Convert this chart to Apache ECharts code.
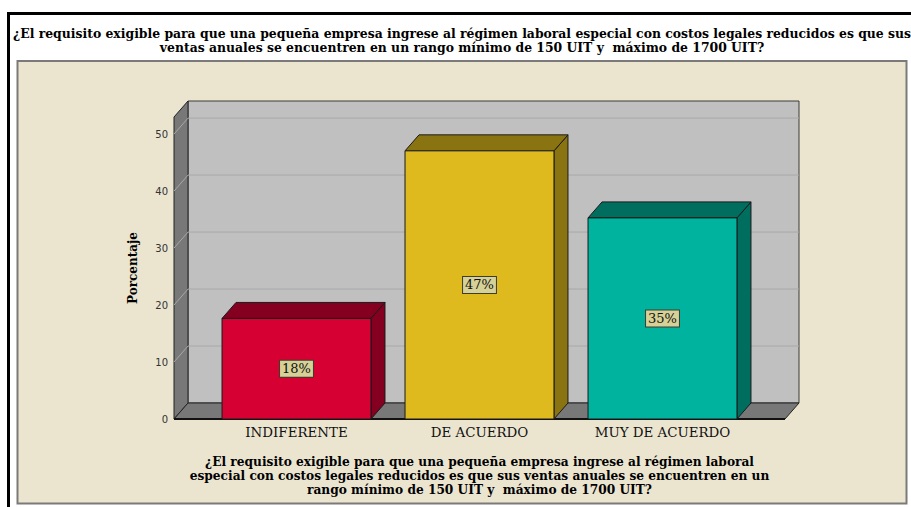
<!DOCTYPE html>
<html>
<head>
<meta charset="utf-8">
<script src="https://cdn.jsdelivr.net/npm/echarts@6/dist/echarts.min.js"></script>
<style>
html,body{margin:0;padding:0;background:#ffffff;}
#chart{width:911px;height:507px;}
</style>
</head>
<body>
<div id="chart"></div>
<script>
// ---- data ----
const categories = ['INDIFERENTE', 'DE ACUERDO', 'MUY DE ACUERDO'];
const values = [17.65, 47.06, 35.29];
const valueLabels = ['18%', '47%', '35%'];
const yMin = 0, yMax = 53, yInterval = 10;
const gridValues = [10, 20, 30, 40, 50];
const titleText = '¿El requisito exigible para que una pequeña empresa ingrese al régimen laboral especial con costos legales reducidos es que sus\nventas anuales se encuentren en un rango mínimo de 150 UIT y  máximo de 1700 UIT?';
const xAxisTitle = '¿El requisito exigible para que una pequeña empresa ingrese al régimen laboral\nespecial con costos legales reducidos es que sus ventas anuales se encuentren en un\nrango mínimo de 150 UIT y  máximo de 1700 UIT?';
const yAxisTitle = 'Porcentaje';

// ---- style ----
const frontColors = ['#D60032', '#DFBA1E', '#00B39E'];
const darkColors = ['#850020', '#8A7412', '#006E5F'];
const DX = 14, DY = -16, EXT = 31;
const SERIF = '"DejaVu Serif", serif';

const chart = echarts.init(document.getElementById('chart'), null, {renderer: 'svg'});

function renderWalls(params, api) {
  const cs = params.coordSys;
  const xl = cs.x - EXT, xr = cs.x + cs.width + EXT;
  const y0 = api.coord([0, yMin])[1];
  const yT = api.coord([0, yMax])[1];
  const children = [];
  children.push({type: 'polygon', shape: {points: [[xl + DX, yT + DY], [xr + DX, yT + DY], [xr + DX, y0 + DY], [xl + DX, y0 + DY]]},
    style: {fill: '#C0C0C0', stroke: '#3a3a3a', lineWidth: 1}});
  children.push({type: 'polygon', shape: {points: [[xl, y0], [xl, yT], [xl + DX, yT + DY], [xl + DX, y0 + DY]]},
    style: {fill: '#787878', stroke: '#222', lineWidth: 1}});
  children.push({type: 'polygon', shape: {points: [[xl, y0], [xr, y0], [xr + DX, y0 + DY], [xl + DX, y0 + DY]]},
    style: {fill: '#787878', stroke: '#222', lineWidth: 1}});
  gridValues.forEach(function (v) {
    const y = api.coord([0, v])[1];
    children.push({type: 'line', shape: {x1: xl + DX, y1: y + DY, x2: xr + DX, y2: y + DY}, style: {stroke: '#A8A8A8', lineWidth: 1}});
    children.push({type: 'line', shape: {x1: xl, y1: y, x2: xl + DX, y2: y + DY}, style: {stroke: '#A8A8A8', lineWidth: 1}});
  });
  children.push({type: 'line', shape: {x1: xl, y1: y0, x2: xr, y2: y0}, style: {stroke: '#111', lineWidth: 2}});
  return {type: 'group', children: children};
}

function renderBar(params, api) {
  const idx = api.value(0);
  const val = api.value(1);
  const base = api.coord([idx, 0]);
  const top = api.coord([idx, val]);
  const w = api.size([1, 0])[0] * 0.814;
  const x0 = base[0] - w / 2, x1 = base[0] + w / 2;
  const yb = base[1], yt = top[1];
  const fc = frontColors[idx], dc = darkColors[idx];
  const st = {stroke: '#1a1a1a', lineWidth: 1};
  return {type: 'group', children: [
    {type: 'polygon', shape: {points: [[x1, yt], [x1 + DX, yt + DY], [x1 + DX, yb + DY], [x1, yb]]}, style: Object.assign({fill: dc}, st)},
    {type: 'polygon', shape: {points: [[x0, yt], [x1, yt], [x1 + DX, yt + DY], [x0 + DX, yt + DY]]}, style: Object.assign({fill: dc}, st)},
    {type: 'rect', shape: {x: x0, y: yt, width: w, height: yb - yt}, style: Object.assign({fill: fc}, st)},
    {type: 'text', x: base[0], y: (yt + yb) / 2, style: {text: valueLabels[idx], align: 'center', verticalAlign: 'middle',
      font: '13px ' + SERIF, fill: '#111', backgroundColor: '#D6D196', borderColor: '#3d3d2d', borderWidth: 1,
      padding: [2, 2, 1, 2]}}
  ]};
}

const option = {
  backgroundColor: '#ffffff',
  animation: false,
  graphic: [
    {type: 'rect', shape: {x: 8, y: 12, width: 910, height: 3}, style: {fill: '#000'}, z: -10},
    {type: 'rect', shape: {x: 7, y: 12, width: 3, height: 500}, style: {fill: '#000'}, z: -10},
    {type: 'rect', shape: {x: 17.5, y: 61, width: 889, height: 442.5}, style: {fill: '#EBE5D0', stroke: '#7a7a7a', lineWidth: 2}, z: -10},
    {type: 'text', x: 462, y: 26, style: {text: titleText, align: 'center', font: 'bold 12.4px ' + SERIF, lineHeight: 14, fill: '#000'}, z: 10}
  ],
  grid: {left: 205, right: 157, top: 117, bottom: 88, containLabel: false},
  xAxis: {
    type: 'category', data: categories,
    axisLine: {show: false}, axisTick: {show: false}, splitLine: {show: false},
    axisLabel: {margin: 7, fontFamily: SERIF, fontSize: 13.4, color: '#111'},
    name: xAxisTitle, nameLocation: 'middle', nameGap: 36,
    nameTextStyle: {fontFamily: SERIF, fontWeight: 'bold', fontSize: 12.2, lineHeight: 14, color: '#000', verticalAlign: 'top'}
  },
  yAxis: {
    type: 'value', min: yMin, max: yMax, interval: yInterval, offset: EXT,
    axisLine: {show: false}, axisTick: {show: false}, splitLine: {show: false},
    axisLabel: {margin: 6, fontFamily: '"DejaVu Sans", sans-serif', fontSize: 10, color: '#333', showMaxLabel: false},
    name: yAxisTitle, nameLocation: 'middle', nameGap: 35, nameRotate: 90,
    nameTextStyle: {fontFamily: SERIF, fontWeight: 'bold', fontSize: 12, color: '#000'}
  },
  series: [
    {type: 'custom', renderItem: renderWalls, data: [[0, 0]], z: 1, silent: true},
    {type: 'custom', renderItem: renderBar, data: values.map(function (v, i) { return [i, v]; }), z: 2,
      encode: {x: 0, y: 1}}
  ]
};
chart.setOption(option);
</script>
</body>
</html>
